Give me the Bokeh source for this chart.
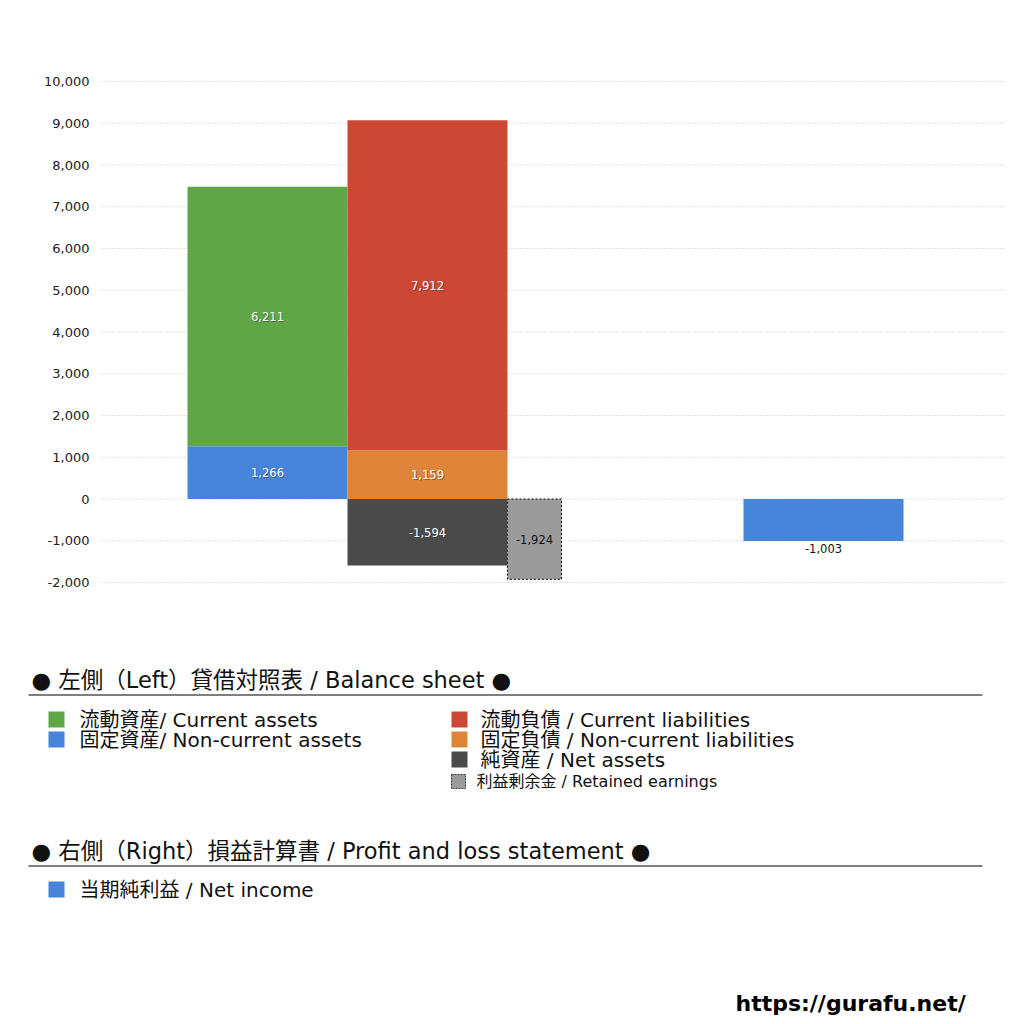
from bokeh.plotting import figure
from bokeh.models import Range1d, NumeralTickFormatter, FixedTicker, ColumnDataSource
from bokeh.embed import file_html
from bokeh.resources import INLINE
from bokeh.core.properties import value

# ---------------- data ----------------
current_assets = 6211
noncurrent_assets = 1266
current_liabilities = 7912
noncurrent_liabilities = 1159
net_assets = -1594
retained_earnings = -1924
net_income = -1003
y_ticks = [-2000, -1000, 0, 1000, 2000, 3000, 4000, 5000, 6000, 7000, 8000, 9000, 10000]

header_left = "● 左側（Left）貸借対照表 / Balance sheet ●"
header_right = "● 右側（Right）損益計算書 / Profit and loss statement ●"
legend_col1 = ["流動資産/ Current assets", "固定資産/ Non-current assets"]
legend_col2 = ["流動負債 /  Current liabilities", "固定負債 / Non-current liabilities", "純資産 / Net assets"]
legend_retained = "利益剰余金 / Retained earnings"
legend_pl = ["当期純利益 / Net income"]
site_url = "https://gurafu.net/"

# ---------------- style / layout ----------------
FONT = "DejaVu Sans, Noto Sans CJK JP"
NUMFONT = "DejaVu Sans"
GREEN, BLUE, RED, ORANGE, BLACK, GRAY = "#60A546", "#4784DA", "#CD4834", "#E0843A", "#4A4A4A", "#9B9B9B"
PAGE_W, PAGE_H = 1008, 1022
PLOT_LEFT, PLOT_RIGHT, PLOT_TOP, PLOT_BOTTOM = 100, 1005, 81, 582
X_ASSETS, X_LIAB, X_RET, X_PL = 267, 427, 534, 823
W_MAIN, W_RET = 160, 54

y_lo, y_hi = min(y_ticks), max(y_ticks)
k = (PLOT_BOTTOM - PLOT_TOP) / (y_hi - y_lo)
p = figure(width=PAGE_W, height=PAGE_H, x_range=Range1d(0, PAGE_W),
           y_range=Range1d(y_lo - (PAGE_H - PLOT_BOTTOM) / k, y_hi + PLOT_TOP / k),
           output_backend="svg", toolbar_location=None, x_axis_type=None, min_border=0)
p.extra_y_ranges = {"page": Range1d(PAGE_H, 0)}
p.outline_line_color = None
p.xgrid.visible = False
p.ygrid.visible = False
p.yaxis.fixed_location = PLOT_LEFT
p.yaxis.ticker = FixedTicker(ticks=y_ticks)
p.yaxis.formatter = NumeralTickFormatter(format="0,0")
p.yaxis.axis_line_color = None
p.yaxis.major_tick_line_color = None
p.yaxis.minor_tick_line_color = None
p.yaxis.major_label_text_font = NUMFONT
p.yaxis.major_label_text_font_size = "13px"
p.yaxis.major_label_text_color = "#222222"
p.yaxis.major_label_standoff = 5

# grid lines across the plotting area only
p.segment(x0=PLOT_LEFT, x1=PLOT_RIGHT, y0=y_ticks, y1=y_ticks, line_color="#c4c4c4", line_dash="1 2",
          line_width=1)

def bar(xc, w, b, t, color, **kw):
    p.quad(left=[xc - w / 2], right=[xc + w / 2], bottom=[b], top=[t], fill_color=color,
           line_color=kw.pop("line_color", None), **kw)

# assets stack
bar(X_ASSETS, W_MAIN, 0, noncurrent_assets, BLUE)
bar(X_ASSETS, W_MAIN, noncurrent_assets, noncurrent_assets + current_assets, GREEN)
# liabilities stack
bar(X_LIAB, W_MAIN, 0, noncurrent_liabilities, ORANGE)
bar(X_LIAB, W_MAIN, noncurrent_liabilities, noncurrent_liabilities + current_liabilities, RED)
bar(X_LIAB, W_MAIN, 0, net_assets, BLACK)
# retained earnings
bar(X_RET, W_RET, 0, retained_earnings, GRAY, line_color="black", line_dash="2 2", line_width=1)
# net income
bar(X_PL, W_MAIN, 0, net_income, BLUE)

white_labels = ColumnDataSource(dict(
    x=[X_ASSETS, X_ASSETS, X_LIAB, X_LIAB, X_LIAB],
    y=[noncurrent_assets / 2, noncurrent_assets + current_assets / 2,
       noncurrent_liabilities / 2, noncurrent_liabilities + current_liabilities / 2, net_assets / 2],
    t=[f"{v:,}" for v in [noncurrent_assets, current_assets, noncurrent_liabilities, current_liabilities, net_assets]],
))
p.text(x="x", y="y", text="t", source=white_labels, text_color="#333333", text_alpha=0.5,
       text_align="center", text_baseline="middle", text_font=value(NUMFONT), text_font_size="11.5px",
       x_offset=1, y_offset=1)
p.text(x="x", y="y", text="t", source=white_labels, text_color="white",
       text_align="center", text_baseline="middle", text_font=value(NUMFONT), text_font_size="11.5px")
p.text(x=[X_RET], y=[retained_earnings / 2], text=[f"{retained_earnings:,}"], text_color="#111111",
       text_align="center", text_baseline="middle", text_font=value(NUMFONT), text_font_size="11.5px")
p.text(x=[X_PL], y=[net_income], text=[f"{net_income:,}"], text_color="#111111",
       text_align="center", text_baseline="top", text_font=value(NUMFONT), text_font_size="11.5px", y_offset=3)

# ---------------- legend (page pixel coordinates) ----------------
def txt(x, y, s, size, color="#111111", style="normal", font=FONT):
    p.text(x=[x], y=[y], text=[s], text_font=value(font), text_font_size=size, text_color=color,
           text_baseline="middle", text_align="left", text_font_style=style, y_range_name="page")

def box(x0, x1, y0, y1, color, **kw):
    p.quad(left=[x0], right=[x1], top=[y0], bottom=[y1], fill_color=color,
           line_color=kw.pop("line_color", None), y_range_name="page", **kw)

def swatch(x, y, color, size=16, **kw):
    box(x, x + size, y - size / 2, y + size / 2, color, **kw)

txt(31, 679, header_left, "22.5px")
box(28, 982, 694, 695, "black")
for i, (lab, col) in enumerate(zip(legend_col1, [GREEN, BLUE])):
    swatch(48, 719 + 20 * i, col)
    txt(79, 719 + 20 * i, lab, "20px")
for i, (lab, col) in enumerate(zip(legend_col2, [RED, ORANGE, BLACK])):
    swatch(451, 719 + 20 * i, col)
    txt(480, 719 + 20 * i, lab, "20px")
swatch(451, 781, GRAY, size=14, line_color="#333333", line_dash="2 1", line_width=1)
txt(476, 781, legend_retained, "16px")

txt(31, 850, header_right, "22.5px")
box(28, 982, 865, 866, "black")
swatch(48, 889, BLUE)
txt(79, 889, legend_pl[0], "20px")

txt(735, 1003, site_url, "22px", color="black", style="bold", font=NUMFONT)

open("out.html", "w").write(file_html(p, INLINE))
